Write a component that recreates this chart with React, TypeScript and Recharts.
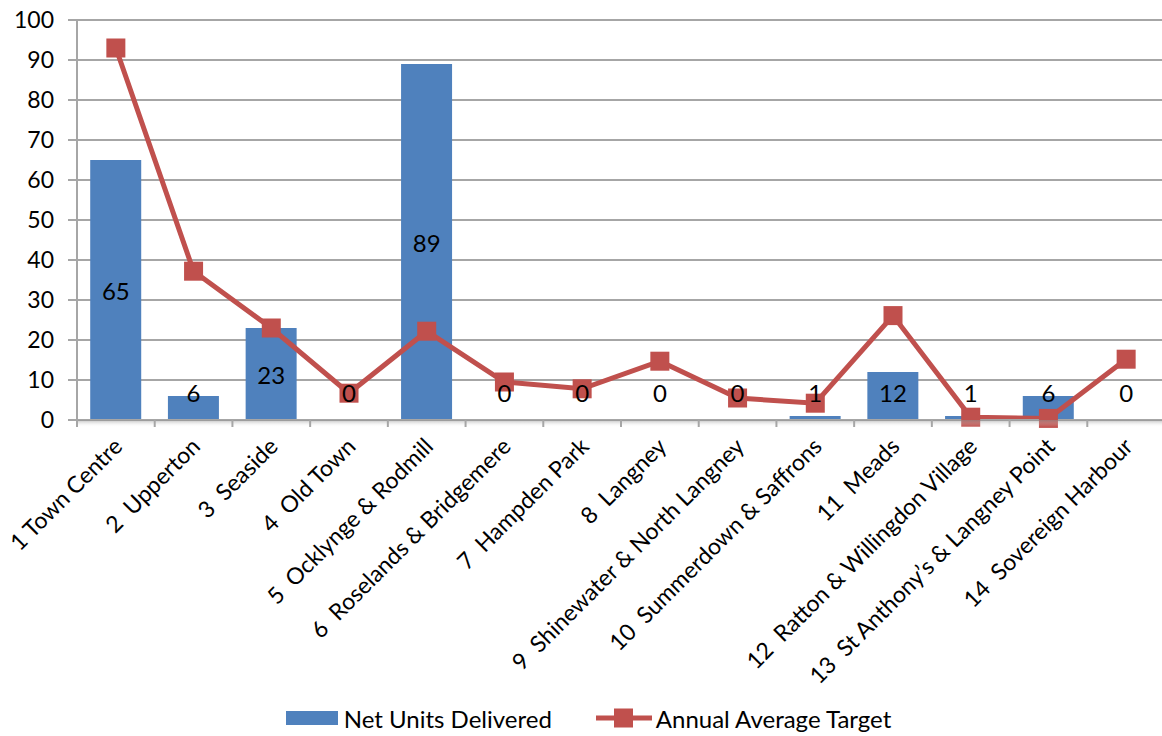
import { ComposedChart, Bar, Line, XAxis, YAxis, CartesianGrid, LabelList, Legend } from "recharts";

const wards = [
  "1 Town Centre",
  "2  Upperton",
  "3  Seaside",
  "4  Old Town",
  "5  Ocklynge & Rodmill",
  "6  Roselands & Bridgemere",
  "7  Hampden Park",
  "8  Langney",
  "9  Shinewater & North Langney",
  "10  Summerdown & Saffrons",
  "11  Meads",
  "12  Ratton & Willingdon Village",
  "13  St Anthony\u2019s & Langney Point",
  "14  Sovereign Harbour",
];
const netUnits = [65, 6, 23, 0, 89, 0, 0, 0, 0, 1, 12, 1, 6, 0];
const annualTarget = [93, 37.2, 23, 6.7, 22.2, 9.5, 7.8, 14.7, 5.5, 4.2, 26.1, 0.7, 0.4, 15.2];
const yTicks = [0, 10, 20, 30, 40, 50, 60, 70, 80, 90, 100];

const data = wards.map((name, i) => ({ name, net: netUnits[i], target: annualTarget[i] }));

const FONT = "Lato, 'Open Sans', sans-serif";
const BLUE = "#4f81bd";
const RED = "#c0504d";
const GRID = "#a6a6a6";

const CHART_W = 1166;
const CHART_H = 736;
const PLOT_TOP = 20;
const PLOT_LEFT = 77;
const PLOT_RIGHT = 1;
const X_AXIS_H = 280;
const LEGEND_H = 36;
const PLOT_BOTTOM = CHART_H - X_AXIS_H - LEGEND_H;
const HALF_BAND = (CHART_W - PLOT_LEFT - PLOT_RIGHT) / wards.length / 2;

function WardTick(props: any) {
  const { x, y, payload, index } = props;
  const tx = x + 8;
  const ty = y + 28;
  return (
    <g>
      <defs>
        <linearGradient id={`shade${index}`} x1="0" y1="0" x2="0" y2="1">
          <stop offset="0%" stopColor="#8c8c8c" stopOpacity={0.55} />
          <stop offset="100%" stopColor="#ffffff" stopOpacity={0} />
        </linearGradient>
      </defs>
      <rect x={x - HALF_BAND} y={y} width={HALF_BAND * 2} height={7} fill={`url(#shade${index})`} />
      <line x1={x - HALF_BAND} y1={y} x2={x - HALF_BAND} y2={y + 7} stroke={GRID} strokeWidth={2} />
      {index === wards.length - 1 && (
        <line x1={x + HALF_BAND} y1={y} x2={x + HALF_BAND} y2={y + 7} stroke={GRID} strokeWidth={2} />
      )}
      <text
        x={tx}
        y={ty}
        transform={`rotate(-45, ${tx}, ${ty})`}
        textAnchor="end"
        fontSize={23}
        fontFamily={FONT}
        fill="#000"
        style={{ whiteSpace: "pre" }}
      >
        {payload.value}
      </text>
    </g>
  );
}

// value labels sit at the middle of the bar, but never lower than a fixed distance above the base
function BarValueLabel(props: any) {
  const { x, y, value } = props;
  if (x == null || y == null) return null;
  const cy = Math.min((y + PLOT_BOTTOM) / 2, PLOT_BOTTOM - 28);
  return (
    <text x={x} y={cy} textAnchor="middle" dominantBaseline="central" fontSize={24} fontFamily={FONT} fill="#000">
      {value}
    </text>
  );
}

function SquareDot(props: any) {
  const { cx, cy } = props;
  if (cx == null || cy == null) return null;
  return <rect x={cx - 9.5} y={cy - 9.5} width={19} height={19} fill={RED} />;
}

function ChartLegend() {
  return (
    <div
      style={{
        display: "flex",
        justifyContent: "center",
        alignItems: "center",
        fontFamily: FONT,
        fontSize: 24,
        color: "#000",
        height: LEGEND_H,
        paddingLeft: 12,
      }}
    >
      <svg width={52} height={16} style={{ marginRight: 6 }}>
        <rect x={0} y={1} width={52} height={14} fill={BLUE} />
      </svg>
      <span style={{ marginRight: 44 }}>Net Units Delivered</span>
      <svg width={56} height={20} style={{ marginRight: 4 }}>
        <line x1={0} y1={10} x2={56} y2={10} stroke={RED} strokeWidth={5} />
        <rect x={18} y={0.5} width={19} height={19} fill={RED} />
      </svg>
      <span>Annual Average Target</span>
    </div>
  );
}

export default function App() {
  return (
    <div style={{ position: "absolute", left: 0, top: 0, width: 1162, height: CHART_H, overflow: "hidden", background: "#fff" }}>
      <ComposedChart
        width={CHART_W}
        height={CHART_H}
        data={data}
        margin={{ top: PLOT_TOP, right: PLOT_RIGHT, left: 0, bottom: 0 }}
        barCategoryGap="17%"
      >
        <CartesianGrid vertical={false} stroke={GRID} strokeWidth={2} />
        <XAxis
          dataKey="name"
          interval={0}
          height={X_AXIS_H}
          tickSize={0}
          tickMargin={0}
          tickLine={false}
          axisLine={{ stroke: GRID, strokeWidth: 2 }}
          tick={<WardTick />}
        />
        <YAxis
          width={PLOT_LEFT}
          domain={[0, 100]}
          ticks={yTicks}
          interval={0}
          tickSize={9}
          tickMargin={14}
          axisLine={{ stroke: GRID, strokeWidth: 2 }}
          tickLine={{ stroke: GRID, strokeWidth: 2 }}
          tick={{ fontSize: 23, fontFamily: FONT, fill: "#000" }}
        />
        <Legend verticalAlign="bottom" height={LEGEND_H} content={<ChartLegend />} />
        <Bar dataKey="net" name="Net Units Delivered" fill={BLUE} isAnimationActive={false} />
        <Line
          dataKey="target"
          name="Annual Average Target"
          type="linear"
          stroke={RED}
          strokeWidth={5}
          dot={<SquareDot />}
          activeDot={false}
          isAnimationActive={false}
        />
        {/* invisible carrier for the bar value labels, so zero bars get their label too */}
        <Line
          dataKey="net"
          stroke="none"
          dot={false}
          activeDot={false}
          legendType="none"
          isAnimationActive={false}
        >
          <LabelList dataKey="net" content={<BarValueLabel />} />
        </Line>
      </ComposedChart>
    </div>
  );
}
